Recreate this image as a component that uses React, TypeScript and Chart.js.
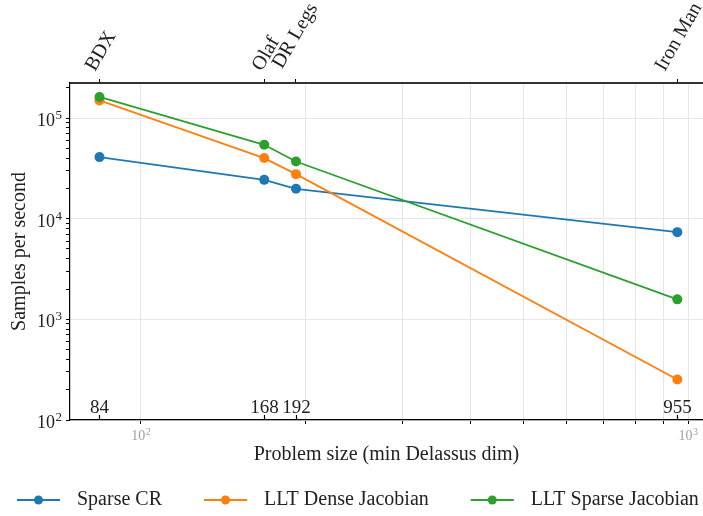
import React, { useEffect, useRef } from 'react';
import { Chart, registerables } from 'chart.js';

Chart.register(...registerables);

// ---- data ----
const robotNames = ['BDX', 'Olaf', 'DR Legs', 'Iron Man'];
const problemSizes = [84, 168, 192, 955];
const sparseCR = [40900, 24300, 19800, 7350];
const lltDenseJacobian = [149600, 40000, 27700, 253];
const lltSparseJacobian = [161900, 54200, 37000, 1580];
const seriesNames = ['Sparse CR', 'LLT Dense Jacobian', 'LLT Sparse Jacobian'];
const seriesColors = ['#1f77b4', '#ff7f0e', '#2ca02c'];
const xMajorTicks = [100, 1000];
const xMinorTicks = [200, 300, 400, 500, 600, 700, 800, 900];
const yDecades = [100, 1000, 10000, 100000];
const yMinorMultipliers = [2, 3, 4, 5, 6, 7, 8, 9];
const xRange = [74.2, 1064];
const yRange = [100, 222800];

const FONT = '"Liberation Serif", "DejaVu Serif", serif';
const TEXT = '#222222';

const exponentOf = (v: number) => Math.round(Math.log10(v));
const isDecade = (v: number) => Math.abs(Math.pow(10, exponentOf(v)) - v) <= 1e-6 * v;

// draws "10^e" with base and exponent; align: 'right' (x = right edge) or 'center'
function drawPow(
  ctx: CanvasRenderingContext2D,
  e: number,
  x: number,
  baseline: number,
  baseSize: number,
  supSize: number,
  rise: number,
  align: 'right' | 'center'
) {
  ctx.textAlign = 'left';
  ctx.textBaseline = 'alphabetic';
  ctx.font = `${baseSize}px ${FONT}`;
  const bw = ctx.measureText('10').width;
  ctx.font = `${supSize}px ${FONT}`;
  const sw = ctx.measureText(String(e)).width;
  const total = bw + 0.5 + sw;
  const left = align === 'right' ? x - total : x - total / 2;
  ctx.font = `${baseSize}px ${FONT}`;
  ctx.fillText('10', left, baseline);
  ctx.font = `${supSize}px ${FONT}`;
  ctx.fillText(String(e), left + bw + 0.5, baseline - rise);
}

const annotationPlugin = {
  id: 'annotationPlugin',
  afterDraw(chart: any) {
    const ctx = chart.ctx as CanvasRenderingContext2D;
    const area = chart.chartArea;
    const xTop = chart.scales.x2;
    const xBot = chart.scales.x;
    const yS = chart.scales.y;
    ctx.save();

    // y tick labels (decades)
    ctx.fillStyle = TEXT;
    yDecades.forEach((d) => {
      const py = yS.getPixelForValue(d);
      drawPow(ctx, exponentOf(d), area.left - 8, py + 8, 18, 13, 7, 'right');
    });

    // x bottom tick labels (decades), grey
    ctx.fillStyle = '#a0a0a0';
    xMajorTicks.forEach((d) => {
      const px = xBot.getPixelForValue(d);
      drawPow(ctx, exponentOf(d), px, area.bottom + 20, 14, 10, 5, 'center');
    });

    // rotated robot names on top axis
    ctx.fillStyle = TEXT;
    ctx.font = `20px ${FONT}`;
    const a = Math.PI / 3;
    robotNames.forEach((name, i) => {
      const px = xTop.getPixelForValue(problemSizes[i]);
      const m = ctx.measureText(name);
      const w = m.width;
      const asc = m.actualBoundingBoxAscent;
      const desc = m.actualBoundingBoxDescent;
      const h = asc + desc;
      const H = w * Math.sin(a) + h * Math.cos(a);
      const cy = area.top - 11 - H / 2;
      ctx.save();
      ctx.translate(px, cy);
      ctx.rotate(-a);
      ctx.textAlign = 'left';
      ctx.textBaseline = 'alphabetic';
      ctx.fillText(name, -w / 2, (asc - desc) / 2);
      ctx.restore();
    });

    // inner ticks and labels on bottom axis
    ctx.strokeStyle = '#000';
    ctx.lineWidth = 1.2;
    ctx.textAlign = 'center';
    ctx.textBaseline = 'alphabetic';
    ctx.font = `19px ${FONT}`;
    problemSizes.forEach((v) => {
      const px = Math.round(xBot.getPixelForValue(v)) + 0.5;
      ctx.beginPath();
      ctx.moveTo(px, area.bottom);
      ctx.lineTo(px, area.bottom - 5);
      ctx.stroke();
      ctx.fillText(String(v), px, area.bottom - 7);
    });

    // legend
    ctx.font = `20px ${FONT}`;
    const ly = 500;
    let lx = 17;
    chart.data.datasets.forEach((ds: any) => {
      ctx.strokeStyle = ds.borderColor;
      ctx.fillStyle = ds.borderColor;
      ctx.lineWidth = 1.8;
      ctx.beginPath();
      ctx.moveTo(lx, ly);
      ctx.lineTo(lx + 43, ly);
      ctx.stroke();
      ctx.beginPath();
      ctx.arc(lx + 21.5, ly, 4.5, 0, Math.PI * 2);
      ctx.fill();
      ctx.fillStyle = TEXT;
      ctx.textAlign = 'left';
      ctx.textBaseline = 'middle';
      ctx.fillText(ds.label, lx + 60, ly);
      lx += 60 + ctx.measureText(ds.label).width + 42;
    });
    ctx.restore();
  },
};

export default function App() {
  const ref = useRef<HTMLCanvasElement | null>(null);
  useEffect(() => {
    if (!ref.current) return;
    const seriesValues = [sparseCR, lltDenseJacobian, lltSparseJacobian];
    const datasets = seriesNames.map((name, si) => ({
      label: name,
      data: problemSizes.map((x, i) => ({ x, y: seriesValues[si][i] })),
      borderColor: seriesColors[si],
      backgroundColor: seriesColors[si],
      borderWidth: 1.8,
      pointRadius: 5,
      pointBorderWidth: 0,
      pointBackgroundColor: seriesColors[si],
      order: 3 - si,
      xAxisID: 'x',
      yAxisID: 'y',
    }));
    const chart = new Chart(ref.current, {
      type: 'line',
      data: { datasets },
      plugins: [annotationPlugin],
      options: {
        animation: false,
        responsive: false,
        layout: { autoPadding: false, padding: { left: 0, right: 0, top: 0, bottom: 38 } },
        plugins: { legend: { display: false }, tooltip: { enabled: false } },
        scales: {
          x: {
            type: 'logarithmic',
            position: 'bottom',
            min: xRange[0],
            max: xRange[1],
            afterBuildTicks: (s: any) => {
              s.ticks = [...xMajorTicks, ...xMinorTicks].sort((p, q) => p - q).map((v) => ({ value: v }));
            },
            afterFit: (s: any) => {
              s.height = 58;
              s.paddingLeft = 0;
              s.paddingRight = 0;
            },
            ticks: { display: false, autoSkip: false },
            grid: { color: '#e6e6e6', lineWidth: 1, tickColor: '#000', tickLength: 4, drawTicks: true },
            border: { display: true, color: '#000', width: 1.2 },
            title: {
              display: true,
              text: 'Problem size (min Delassus dim)',
              color: TEXT,
              font: { family: FONT, size: 20 },
              padding: { top: 0, bottom: 11 },
            },
          },
          x2: {
            type: 'logarithmic',
            position: 'top',
            min: xRange[0],
            max: xRange[1],
            afterBuildTicks: (s: any) => {
              s.ticks = problemSizes.map((v) => ({ value: v }));
            },
            afterFit: (s: any) => {
              s.height = 83;
              s.paddingLeft = 0;
              s.paddingRight = 0;
            },
            ticks: { display: false, autoSkip: false },
            grid: { drawOnChartArea: false, drawTicks: true, tickLength: 4, tickColor: '#000', color: '#000' },
            border: { display: true, color: '#333333', width: 2 },
          },
          y: {
            type: 'logarithmic',
            position: 'left',
            min: yRange[0],
            max: yRange[1],
            afterBuildTicks: (s: any) => {
              const vals: number[] = [];
              yDecades.forEach((d) => {
                vals.push(d);
                yMinorMultipliers.forEach((m) => {
                  if (d * m <= yRange[1]) vals.push(d * m);
                });
              });
              s.ticks = vals.sort((p, q) => p - q).map((v) => ({ value: v }));
            },
            afterFit: (s: any) => {
              s.width = 70;
              s.paddingTop = 0;
              s.paddingBottom = 0;
            },
            ticks: { display: false, autoSkip: false },
            grid: {
              color: (c: any) => (c.tick && isDecade(c.tick.value) ? '#e6e6e6' : 'rgba(0,0,0,0)'),
              tickColor: '#000',
              tickLength: 4,
              drawTicks: true,
            },
            border: { display: true, color: '#000', width: 1.2 },
            title: {
              display: true,
              text: 'Samples per second',
              color: TEXT,
              font: { family: FONT, size: 20 },
              padding: { top: 8, bottom: 0 },
            },
          },
        },
      },
    } as any);
    return () => chart.destroy();
  }, []);
  return (
    <div style={{ position: 'fixed', left: 0, top: 0, width: 703, height: 516, background: '#fff' }}>
      <canvas ref={ref} width={703} height={516} style={{ display: 'block' }} />
    </div>
  );
}
